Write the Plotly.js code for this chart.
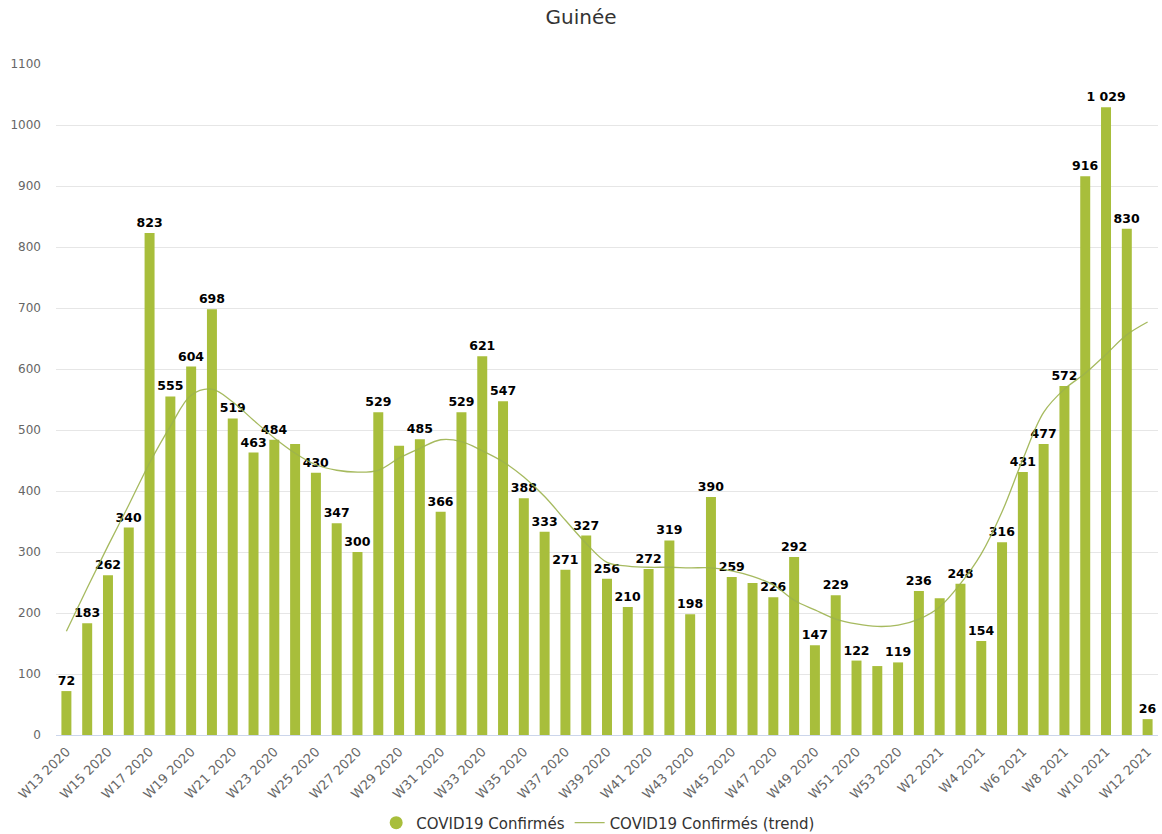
<!DOCTYPE html>
<html>
<head>
<meta charset="utf-8">
<script src="https://cdn.plot.ly/plotly-3.0.1.min.js"></script>
<style>
html,body{margin:0;padding:0;background:#fff;}
#chart{width:1162px;height:834px;}
</style>
</head>
<body>
<div id="chart"></div>
<script>
const weeks = [
  "W13 2020","W14 2020","W15 2020","W16 2020","W17 2020","W18 2020","W19 2020","W20 2020",
  "W21 2020","W22 2020","W23 2020","W24 2020","W25 2020","W26 2020","W27 2020","W28 2020",
  "W29 2020","W30 2020","W31 2020","W32 2020","W33 2020","W34 2020","W35 2020","W36 2020",
  "W37 2020","W38 2020","W39 2020","W40 2020","W41 2020","W42 2020","W43 2020","W44 2020",
  "W45 2020","W46 2020","W47 2020","W48 2020","W49 2020","W50 2020","W51 2020","W52 2020",
  "W53 2020","W1 2021","W2 2021","W3 2021","W4 2021","W5 2021","W6 2021","W7 2021",
  "W8 2021","W9 2021","W10 2021","W11 2021","W12 2021"
];
const confirmed = [
  72,183,262,340,823,555,604,698,
  519,463,484,477,430,347,300,529,
  474,485,366,529,621,547,388,333,
  271,327,256,210,272,319,198,390,
  259,249,226,292,147,229,122,113,
  119,236,224,248,154,316,431,477,
  572,916,1029,830,26
];
const trend = [
  170,241,310,377,446,506,557,567,
  546,516,487,462,443,434,431,434,
  454,470,484,481,466,448,423,391,
  352,314,283,277,275,275,274,274,
  269,260,246,221,205,190,182,178,
  180,190,210,248,297,366,452,529,
  567,593,624,656,677
];
// weeks whose value label is not drawn in the original
const hiddenLabels = ["W24 2020","W29 2020","W46 2020","W52 2020","W2 2021"];
const tickWeeks = weeks.filter((w, i) => i % 2 === 0);

function fmt(v) {
  return String(v).replace(/\B(?=(\d{3})+(?!\d))/g, "\u00a0");
}
const labels = confirmed.map((v, i) => hiddenLabels.includes(weeks[i]) ? "" : fmt(v));

const green = "#a8be3b";
const font = "DejaVu Sans, sans-serif";

const traces = [
  {
    type: "bar",
    x: weeks,
    y: confirmed,
    name: "COVID19 Confirmés",
    showlegend: false,
    marker: {color: green},
    text: labels,
    textposition: "outside",
    constraintext: "none",
    cliponaxis: false,
    textfont: {family: font, size: 12.5, color: "#000", weight: "bold"},
    hoverinfo: "x+y"
  },
  {
    type: "scatter",
    mode: "markers",
    x: [null],
    y: [null],
    name: "COVID19 Confirmés",
    marker: {color: green, size: 13, symbol: "circle"},
    hoverinfo: "skip"
  },
  {
    type: "scatter",
    mode: "lines",
    x: weeks,
    y: trend,
    name: "COVID19 Confirmés (trend)",
    line: {color: "#9db34e", width: 1.3, shape: "spline", smoothing: 1},
    opacity: 0.9
  }
];

const layout = {
  width: 1162,
  height: 834,
  margin: {l: 56, r: 4, t: 64, b: 99, autoexpand: false},
  paper_bgcolor: "#fff",
  plot_bgcolor: "#fff",
  font: {family: font, size: 12, color: "#666"},
  title: {
    text: "Guinée",
    font: {family: font, size: 20, color: "#333"},
    x: 0.5,
    xanchor: "center",
    y: 0.98,
    yanchor: "middle"
  },
  bargap: 0.52,
  showlegend: true,
  legend: {
    orientation: "h",
    x: 0.492,
    xanchor: "center",
    y: -0.131,
    yanchor: "middle",
    font: {family: font, size: 15, color: "#333"},
    itemwidth: 30,
    traceorder: "normal"
  },
  xaxis: {
    type: "category",
    tickmode: "array",
    tickvals: tickWeeks,
    ticktext: tickWeeks,
    tickangle: -45,
    tickfont: {family: font, size: 13, color: "#666"},
    ticklabelstandoff: 3,
    showgrid: false,
    showline: true,
    linecolor: "#ccd6eb",
    linewidth: 1,
    ticks: "",
    zeroline: false,
    automargin: false,
    fixedrange: true
  },
  yaxis: {
    range: [0, 1100],
    dtick: 100,
    tick0: 0,
    showgrid: true,
    gridcolor: "#e6e6e6",
    gridwidth: 1,
    zeroline: false,
    showline: false,
    ticks: "",
    ticklabelstandoff: 14,
    tickfont: {family: font, size: 12, color: "#666"},
    automargin: false,
    fixedrange: true
  }
};

Plotly.newPlot("chart", traces, layout, {displayModeBar: false, staticPlot: true});
</script>
</body>
</html>
